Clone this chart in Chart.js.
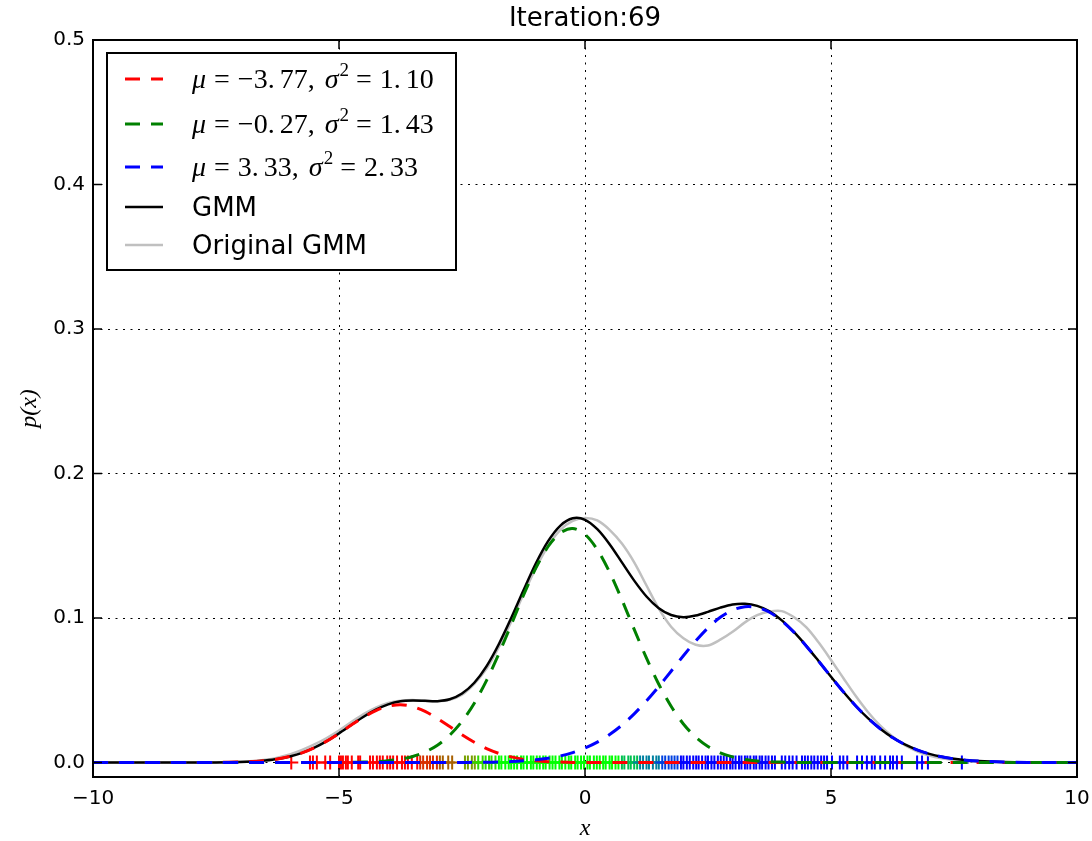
<!DOCTYPE html>
<html>
<head>
<meta charset="utf-8">
<title>Iteration:69</title>
<script src="https://cdn.jsdelivr.net/npm/chart.js@4.4.0/dist/chart.umd.min.js"></script>
<style>
  html, body { margin: 0; padding: 0; background: #fff; }
  #chart { display: block; }
</style>
</head>
<body>
<canvas id="chart" width="1092" height="841"></canvas>
<script>
// x samples (finer in the middle) and curve values
const xs = [-10, -9.5, -9, -8.5, -8, -7.5, -7,
  -6.75, -6.5, -6.25,
  -6, -5.75, -5.5, -5.25,
  -5, -4.75, -4.5, -4.25,
  -4, -3.75, -3.5, -3.25,
  -3, -2.75, -2.5, -2.25,
  -2, -1.75, -1.5, -1.25,
  -1, -0.75, -0.5, -0.25,
  0, 0.25, 0.5, 0.75,
  1, 1.25, 1.5, 1.75,
  2, 2.25, 2.5, 2.75,
  3, 3.25, 3.5, 3.75,
  4, 4.25, 4.5, 4.75,
  5, 5.25, 5.5, 5.75,
  6, 6.25, 6.5, 6.75,
  7, 7.25, 7.5, 7.75,
  8, 8.5, 9, 9.5, 10];

const redComp = [0, 0, 0, 0, 0.00001, 0.00007, 0.00035,
  0.00071, 0.00135, 0.00244,
  0.0042, 0.0067, 0.0103, 0.0148,
  0.0201, 0.0259, 0.0314, 0.0360,
  0.0390, 0.0400, 0.0387, 0.0354,
  0.0305, 0.0249, 0.0192, 0.0140,
  0.0096, 0.0063, 0.0039, 0.0022,
  0.0012, 0.0006, 0.0003, 0.0001,
  0.0001, 0, 0, 0,
  0, 0, 0, 0,
  0, 0, 0, 0,
  0, 0, 0, 0,
  0, 0, 0, 0,
  0, 0, 0, 0,
  0, 0, 0, 0,
  0, 0, 0, 0,
  0, 0, 0, 0, 0];

const greenComp = [0, 0, 0, 0, 0, 0, 0,
  0, 0, 0,
  0, 0, 0, 0.00003,
  0.0001, 0.00015, 0.0003, 0.00064,
  0.0013, 0.00235, 0.0042, 0.00726,
  0.0120, 0.0189, 0.0285, 0.0411,
  0.0569, 0.0753, 0.0954, 0.1158,
  0.1345, 0.1495, 0.1590, 0.1620,
  0.1579, 0.1474, 0.1317, 0.1126,
  0.0922, 0.0722, 0.0542, 0.0389,
  0.0267, 0.0176, 0.0111, 0.0067,
  0.0039, 0.0021, 0.0011, 0.0006,
  0.0003, 0.0001, 0.0001, 0,
  0, 0, 0, 0,
  0, 0, 0, 0,
  0, 0, 0, 0,
  0, 0, 0, 0, 0];

const blueComp = [0, 0, 0, 0, 0, 0, 0,
  0, 0, 0,
  0, 0, 0, 0,
  0, 0, 0, 0,
  0, 0, 0, 0,
  0.00002, 0.00004, 0.0001, 0.00014,
  0.0002, 0.0004, 0.0007, 0.0012,
  0.0019, 0.0030, 0.0046, 0.0069,
  0.0100, 0.0141, 0.0194, 0.0259,
  0.0337, 0.0427, 0.0526, 0.0632,
  0.0739, 0.0841, 0.0932, 0.1005,
  0.1055, 0.1078, 0.1073, 0.1040,
  0.0981, 0.0901, 0.0805, 0.0701,
  0.0594, 0.0490, 0.0393, 0.0307,
  0.0234, 0.0173, 0.0125, 0.0088,
  0.0060, 0.0040, 0.0026, 0.0016,
  0.0010, 0.0004, 0.0001, 0, 0];

const gmm = [0, 0, 0, 0, 0.00001, 0.00007, 0.00035,
  0.0007, 0.00135, 0.0024,
  0.0042, 0.0067, 0.0103, 0.0148,
  0.0202, 0.0260, 0.0317, 0.0366,
  0.0403, 0.0424, 0.0429, 0.0427,
  0.0425, 0.0438, 0.0478, 0.0552,
  0.0667, 0.0820, 0.1000, 0.1192,
  0.1377, 0.1532, 0.1640, 0.1690,
  0.1680, 0.1615, 0.1511, 0.1385,
  0.1259, 0.1149, 0.1068, 0.1021,
  0.1006, 0.1017, 0.1043, 0.1072,
  0.1094, 0.1099, 0.1084, 0.1046,
  0.0984, 0.0902, 0.0806, 0.0701,
  0.0594, 0.0490, 0.0393, 0.0307,
  0.0234, 0.0173, 0.0125, 0.0088,
  0.0060, 0.0040, 0.0026, 0.0016,
  0.0010, 0.0004, 0.0001, 0, 0];

const originalGmm = [0, 0, 0, 0, 0.00001, 0.0001, 0.0005,
  0.0010, 0.0019, 0.0034,
  0.0056, 0.0087, 0.0125, 0.0170,
  0.0222, 0.0280, 0.0335, 0.0380,
  0.0412, 0.0428, 0.0433, 0.0426,
  0.0425, 0.0435, 0.0470, 0.0545,
  0.0650, 0.0800, 0.0975, 0.1165,
  0.1345, 0.1500, 0.1610, 0.1672,
  0.1692, 0.1675, 0.1610, 0.1515,
  0.1385, 0.1225, 0.1065, 0.0940,
  0.0860, 0.0815, 0.0810, 0.0850,
  0.0905, 0.0970, 0.1020, 0.1045,
  0.1048, 0.1005, 0.0935, 0.0830,
  0.0710, 0.0585, 0.0462, 0.0350,
  0.0255, 0.0180, 0.0120, 0.0078,
  0.0048, 0.0029, 0.0017, 0.0009,
  0.0005, 0.0001, 0, 0, 0];

// component parameters shown in the legend
const mus = [-3.77, -0.27, 3.33];
const sigma2s = [1.10, 1.43, 2.33];

// sample positions (rug of '+' marks along y = 0)
const rugX = [-5.97, -5.59, -5.53, -5.45, -5.28, -5.18, -5.00, -4.96, -4.92, -4.86, -4.82, -4.74, -4.61, -4.57,
  -4.37, -4.31, -4.23, -4.17, -4.11, -4.02, -3.96, -3.90, -3.82, -3.72, -3.66, -3.60, -3.52, -3.41, -3.35, -3.29,
  -3.21, -3.15, -3.09, -3.01, -2.95, -2.89, -2.78, -2.70, -2.44, -2.38, -2.30, -2.24, -2.17,
  -2.08, -2.02, -1.95, -1.90, -1.82, -1.75, -1.70, -1.62, -1.55, -1.50, -1.44, -1.38, -1.30, -1.25, -1.18, -1.10,
  -1.05, -0.98, -0.92, -0.85, -0.80, -0.72, -0.66, -0.60, -0.52, -0.47, -0.40, -0.33, -0.28, -0.20, -0.15, -0.08,
  -0.02, 0.05, 0.10, 0.18, 0.24, 0.30, 0.37, 0.42, 0.50, 0.55, 0.62, 0.68, 0.75, 0.80, 0.88, 0.93, 1.00, 1.06,
  1.12, 1.18, 1.25, 1.30, 1.38, 1.45, 1.50, 1.57, 1.63, 1.70,
  1.76, 1.82, 1.88, 1.95, 2.00, 2.07, 2.13, 2.20, 2.26, 2.31, 2.38, 2.45, 2.50, 2.57, 2.63, 2.70, 2.76, 2.82,
  2.88, 2.95, 3.00, 3.06, 3.13, 3.18, 3.25, 3.30, 3.36, 3.43, 3.48, 3.55, 3.60, 3.67, 3.73, 3.80, 3.86, 4.00,
  4.07, 4.15, 4.22, 4.30, 4.41, 4.47, 4.53, 4.60, 4.66, 4.73, 4.80, 4.86, 4.92, 5.02, 5.18, 5.25, 5.33, 5.53,
  5.63, 5.73, 5.83, 5.89, 6.00, 6.10, 6.20, 6.26, 6.34, 6.44, 6.75, 6.85, 6.97, 7.66];

const xTicks = [-10, -5, 0, 5, 10];
const yTicks = [0, 0.1, 0.2, 0.3, 0.4, 0.5];

// colour of a rug mark goes from red through green to blue along x
const rugStops = [[-3.4, '#ff0000'], [-3.0, '#d83000'], [-2.6, '#a86000'], [-2.2, '#78a000'], [-1.8, '#30d800'],
  [0.7, '#00ff00'], [1.1, '#00c050'], [1.5, '#0080a0'], [1.9, '#0040e0'], [99, '#0000ff']];
function rugColor(x) {
  for (const s of rugStops) if (x <= s[0]) return s[1];
  return '#0000ff';
}

const pts = arr => xs.map((x, i) => ({ x: x, y: arr[i] }));
const fmtMinus = v => (Number(v) < 0 ? '\u2212' + String(v).replace('-', '') : String(v));

const curve = (label, data, color, width, dash, order) => ({
  label: label,
  data: pts(data),
  borderColor: color,
  borderWidth: width,
  borderDash: dash,
  pointRadius: 0,
  tension: 0.3,
  fill: false,
  order: order
});

const compLabel = i => 'μ = ' + fmtMinus(mus[i].toFixed(2)) + ', σ² = ' + sigma2s[i].toFixed(2);

const datasets = [
  curve(compLabel(0), redComp, '#ff0000', 3, [15, 11], 3),
  curve(compLabel(1), greenComp, '#008000', 3, [15, 11], 2),
  curve(compLabel(2), blueComp, '#0000ff', 3, [15, 11], 1),
  curve('GMM', gmm, '#000000', 2.5, [], 4),
  curve('Original GMM', originalGmm, '#c0c0c0', 2.5, [], 5),
  {
    label: 'samples',
    data: rugX.map(x => ({ x: x, y: 0 })),
    showLine: false,
    pointStyle: 'cross',
    pointRadius: 7,
    pointBorderWidth: 2,
    pointBorderColor: ctx => rugColor(ctx.raw ? ctx.raw.x : 0),
    order: 10
  }
];

// full box with inward ticks on all four sides
const framePlugin = {
  id: 'frame',
  afterDraw(chart) {
    const { ctx, chartArea: a, scales } = chart;
    ctx.save();
    ctx.strokeStyle = '#000';
    ctx.lineWidth = 2;
    ctx.setLineDash([]);
    ctx.strokeRect(a.left, a.top, a.right - a.left, a.bottom - a.top);
    ctx.lineWidth = 1.5;
    ctx.beginPath();
    xTicks.forEach(v => {
      const px = scales.x.getPixelForValue(v);
      ctx.moveTo(px, a.bottom); ctx.lineTo(px, a.bottom - 9);
      ctx.moveTo(px, a.top); ctx.lineTo(px, a.top + 9);
    });
    yTicks.forEach(v => {
      const py = scales.y.getPixelForValue(v);
      ctx.moveTo(a.left, py); ctx.lineTo(a.left + 9, py);
      ctx.moveTo(a.right, py); ctx.lineTo(a.right - 9, py);
    });
    ctx.stroke();
    ctx.restore();
  }
};

// boxed legend in the upper left corner with math labels
function drawMath(ctx, x, y, mu, s2) {
  const roman = '28px "Liberation Serif"';
  const ital = 'italic 28px "Liberation Serif"';
  const sup = '19px "Liberation Serif"';
  const num = v => {
    const parts = fmtMinus(v.toFixed(2)).split('.');
    return [parts[0] + '.', parts[1]];
  };
  const m = num(mu), s = num(s2);
  const pieces = [
    [ital, 'μ', 8], [roman, '=', 8], [roman, m[0], 5], [roman, m[1] + ',', 10],
    [ital, 'σ', 1], [sup, '2', 7, -12], [roman, '=', 8], [roman, s[0], 5], [roman, s[1], 0]
  ];
  pieces.forEach(p => {
    ctx.font = p[0];
    ctx.fillText(p[1], x, y + (p[3] || 0));
    x += ctx.measureText(p[1]).width + p[2];
  });
}

const legendPlugin = {
  id: 'boxLegend',
  afterDraw(chart) {
    const { ctx } = chart;
    const box = { x: 107, y: 53, w: 349, h: 217 };
    const rows = [79, 124, 167, 207, 245];
    ctx.save();
    ctx.fillStyle = '#fff';
    ctx.fillRect(box.x, box.y, box.w, box.h);
    ctx.strokeStyle = '#000';
    ctx.lineWidth = 2;
    ctx.strokeRect(box.x, box.y, box.w, box.h);
    chart.data.datasets.slice(0, 5).forEach((ds, i) => {
      const y = rows[i];
      ctx.strokeStyle = ds.borderColor;
      ctx.lineWidth = ds.borderWidth;
      ctx.setLineDash(ds.borderDash);
      ctx.beginPath();
      ctx.moveTo(125, y);
      ctx.lineTo(163, y);
      ctx.stroke();
      ctx.setLineDash([]);
      ctx.fillStyle = '#000';
      ctx.textBaseline = 'alphabetic';
      if (i < 3) {
        drawMath(ctx, 192, y + 9, mus[i], sigma2s[i]);
      } else {
        ctx.font = '26px "DejaVu Sans"';
        ctx.fillText(ds.label, 192, y + 9);
      }
    });
    ctx.restore();
  }
};

Chart.defaults.font.family = '"DejaVu Sans"';
Chart.defaults.color = '#000';

new Chart(document.getElementById('chart'), {
  type: 'line',
  data: { datasets: datasets },
  options: {
    responsive: false,
    animation: false,
    events: [],
    layout: { padding: { left: 0, right: 15, top: 0, bottom: 0 } },
    plugins: {
      legend: { display: false },
      tooltip: { enabled: false }
    },
    scales: {
      x: {
        type: 'linear',
        min: -10,
        max: 10,
        afterBuildTicks: s => { s.ticks = xTicks.map(v => ({ value: v })); },
        afterFit: s => { s.height = 64; s.paddingLeft = 0; s.paddingRight = 0; },
        grid: { color: '#000', lineWidth: 1, drawTicks: false },
        border: { display: false, dash: [2, 5.5] },
        ticks: { color: '#000', font: { size: 20 }, padding: 10, maxRotation: 0, autoSkip: false, callback: v => fmtMinus(v) },
        title: { display: true, text: 'x', color: '#000', font: { family: '"Liberation Serif"', style: 'italic', size: 24, lineHeight: 1 }, padding: { top: 0, bottom: 0 } }
      },
      // top axis only carries the title, centred over the plot
      xTop: {
        type: 'linear',
        position: 'top',
        min: -10,
        max: 10,
        afterFit: s => { s.height = 40; s.paddingLeft = 0; s.paddingRight = 0; },
        grid: { display: false, drawTicks: false },
        border: { display: false },
        ticks: { display: false },
        title: { display: true, text: 'Iteration:69', color: '#000', font: { size: 26, lineHeight: 1.2 }, padding: { top: 4, bottom: 0 } }
      },
      y: {
        type: 'linear',
        min: -0.01,
        max: 0.5,
        afterBuildTicks: s => { s.ticks = yTicks.map(v => ({ value: v })); },
        afterFit: s => { s.width = 93; },
        grid: { color: '#000', lineWidth: 1, drawTicks: false },
        border: { display: false, dash: [2, 5.5] },
        ticks: { color: '#000', font: { size: 20 }, padding: 8, callback: v => v.toFixed(1) },
        title: { display: true, text: 'p(x)', color: '#000', font: { family: '"Liberation Serif"', style: 'italic', size: 24, lineHeight: 1 }, padding: { top: 18, bottom: 0 } }
      }
    }
  },
  plugins: [framePlugin, legendPlugin]
});
</script>
</body>
</html>
